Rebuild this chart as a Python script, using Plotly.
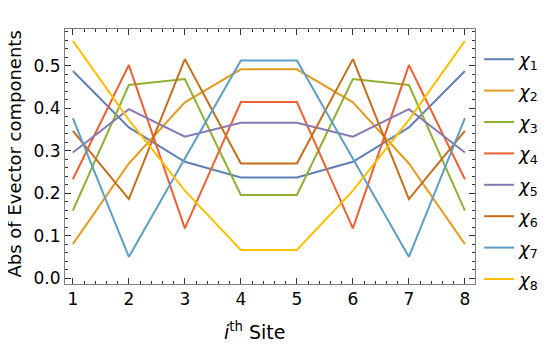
import plotly.graph_objects as go

sites = [1, 2, 3, 4, 5, 6, 7, 8]

# |eigenvector components| per site (symmetric chain)
chi1 = [0.488, 0.355, 0.274, 0.237, 0.237, 0.274, 0.355, 0.488]
chi2 = [0.080, 0.270, 0.414, 0.492, 0.492, 0.414, 0.270, 0.080]
chi3 = [0.159, 0.455, 0.469, 0.196, 0.196, 0.469, 0.455, 0.159]
chi4 = [0.233, 0.502, 0.117, 0.415, 0.415, 0.117, 0.502, 0.233]
chi5 = [0.296, 0.398, 0.333, 0.366, 0.366, 0.333, 0.398, 0.296]
chi6 = [0.347, 0.186, 0.516, 0.270, 0.270, 0.516, 0.186, 0.347]
chi7 = [0.377, 0.050, 0.282, 0.513, 0.513, 0.282, 0.050, 0.377]
chi8 = [0.559, 0.373, 0.206, 0.066, 0.066, 0.206, 0.373, 0.559]

series = [chi1, chi2, chi3, chi4, chi5, chi6, chi7, chi8]
names = [f"<i>χ</i><sub>{k}</sub>" for k in range(1, 9)]
colors = ["#5E81B5", "#E19C24", "#8FB032", "#EB6235",
          "#8778B3", "#C56E1A", "#5D9EC7", "#FFBF00"]

fig = go.Figure()
for k, (vals, name, c) in enumerate(zip(series, names, colors)):
    fig.add_trace(go.Scatter(
        x=sites, y=vals, mode="lines", name=name, legendgroup=str(k),
        line=dict(color=c, width=2),
    ))

axis_common = dict(
    showline=True, linecolor="#808080", linewidth=1, mirror="ticks",
    ticks="inside", tickcolor="#333", ticklen=6, tickwidth=1,
    showgrid=False, zeroline=False, automargin=False,
    tickfont=dict(size=17, color="black"),
)

fig.update_xaxes(
    **axis_common,
    range=[0.86, 8.18], tickvals=sites,
    minor=dict(ticks="inside", ticklen=3, dtick=0.2, tick0=0, tickcolor="#333"),
)
fig.update_yaxes(
    **axis_common,
    range=[-0.014, 0.587], dtick=0.1, tickformat=".1f",
    minor=dict(ticks="inside", ticklen=3, dtick=0.02, tick0=0, tickcolor="#333"),
)

fig.add_annotation(
    text="<i>i</i><sup>th</sup> Site", xref="paper", yref="paper",
    x=0.461, y=-0.184, xanchor="center", yanchor="middle", showarrow=False,
    font=dict(size=19, color="black"),
)
fig.add_annotation(
    text="Abs of Evector components", xref="paper", yref="paper",
    x=-0.123, y=0.51, xanchor="center", yanchor="middle", showarrow=False,
    textangle=-90, font=dict(size=18, color="black"),
)

# page body adds an 8px offset, so the figure is 8px smaller than the window
fig.update_layout(
    width=548, height=339,
    margin=dict(l=57, r=77, t=21, b=63),
    plot_bgcolor="white", paper_bgcolor="white",
    font=dict(family="DejaVu Sans", color="black"),
    showlegend=True,
    legend=dict(
        x=1.01, y=0.449, xanchor="left", yanchor="middle",
        font=dict(size=18), tracegroupgap=5, borderwidth=0,
        itemwidth=30, maxheight=320,
    ),
)

fig.write_html("out.html")
